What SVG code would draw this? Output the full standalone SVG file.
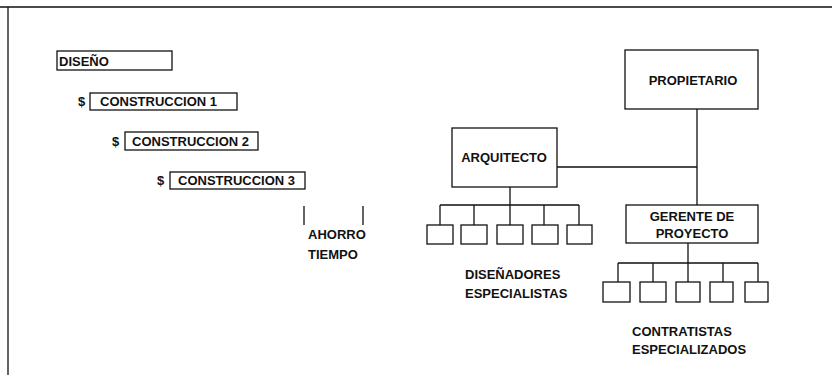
<svg xmlns="http://www.w3.org/2000/svg" width="832" height="375" viewBox="0 0 832 375">
<style>
text{font-family:"Liberation Sans",Arial,sans-serif;font-weight:bold;font-size:13px;fill:#111}
.b{fill:#fff;stroke:#111;stroke-width:1.3}
.l{stroke:#111;stroke-width:1.3;fill:none}
.m{text-anchor:middle}
</style>
<rect width="832" height="375" fill="#fff"/>
<path class="l" d="M0 7H832M8 7V375" stroke-width="1.6"/>
<g id="diseno"><rect class="b" x="57" y="51" width="115" height="19"/><text x="59" y="65.5">DISEÑO</text></g>
<g id="c1"><text x="78" y="106">$</text><rect class="b" x="90" y="93" width="147" height="17"/><text x="100" y="106">CONSTRUCCION 1</text></g>
<g id="c2"><text x="112" y="146">$</text><rect class="b" x="125" y="132" width="133" height="18"/><text x="132" y="146">CONSTRUCCION 2</text></g>
<g id="c3"><text x="157" y="185">$</text><rect class="b" x="170" y="172" width="135" height="17"/><text x="178" y="185">CONSTRUCCION 3</text></g>
<g id="ahorro"><path class="l" d="M304 206V225M363 206V225"/><text x="308" y="239">AHORRO</text><text x="308" y="259">TIEMPO</text></g>
<g id="connectors">
<path class="l" d="M697 109V205M557 167H697M510 187V205M440 205H579M440 205V225M474 205V225M510 205V225M544 205V225M579 205V225M688 243V263M618 263H758M618 263V282M653 263V282M688 263V282M723 263V282M758 263V282"/>
</g>
<g id="propietario"><rect class="b" x="625" y="50" width="133" height="59"/><text class="m" x="693" y="84.5">PROPIETARIO</text></g>
<g id="arquitecto"><rect class="b" x="452" y="128" width="105" height="59"/><text class="m" x="504" y="161.5">ARQUITECTO</text></g>
<g id="gerente"><rect class="b" x="626" y="205" width="132" height="38"/><text class="m" x="692" y="220.5">GERENTE DE</text><text class="m" x="692" y="237.5">PROYECTO</text></g>
<g id="disenadores">
<rect class="b" x="427" y="225" width="26" height="19"/><rect class="b" x="461" y="225" width="26" height="19"/><rect class="b" x="497" y="225" width="26" height="19"/><rect class="b" x="532" y="225" width="26" height="19"/><rect class="b" x="567" y="225" width="25" height="19"/>
<text x="465" y="279">DISEÑADORES</text><text x="465" y="298">ESPECIALISTAS</text></g>
<g id="contratistas">
<rect class="b" x="603" y="282" width="27" height="20"/><rect class="b" x="640" y="282" width="26" height="20"/><rect class="b" x="676" y="282" width="24" height="20"/><rect class="b" x="710" y="282" width="23" height="20"/><rect class="b" x="745" y="282" width="23" height="20"/>
<text x="632" y="336">CONTRATISTAS</text><text x="632" y="354">ESPECIALIZADOS</text></g>
</svg>
